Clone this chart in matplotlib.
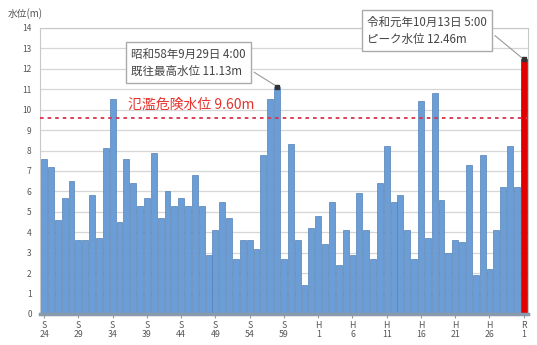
import matplotlib
matplotlib.use("Agg")
import matplotlib.pyplot as plt
import numpy as np

plt.rcParams['font.family'] = ['Noto Sans CJK JP', 'DejaVu Sans']

# 年最高水位 (m), 昭和24年 ～ 令和元年
years = list(range(1949, 2020))
levels = [7.6, 7.2, 4.6, 5.7, 6.5, 3.6, 3.6, 5.8, 3.7, 8.1,
          10.5, 4.5, 7.6, 6.4, 5.3, 5.7, 7.9, 4.7, 6.0, 5.3,
          5.7, 5.3, 6.8, 5.3, 2.9, 4.1, 5.5, 4.7, 2.7, 3.6,
          3.6, 3.2, 7.8, 10.5, 11.13, 2.7, 8.3, 3.6, 1.4, 4.2,
          4.8, 3.4, 5.5, 2.4, 4.1, 2.9, 5.9, 4.1, 2.7, 6.4,
          8.2, 5.5, 5.8, 4.1, 2.7, 10.4, 3.7, 10.8, 5.6, 3.0,
          3.6, 3.5, 7.3, 1.9, 7.8, 2.2, 4.1, 6.2, 8.2, 6.2,
          12.46]
tick_years = list(range(1949, 2020, 5))
tick_labels = ["S\n24", "S\n29", "S\n34", "S\n39", "S\n44", "S\n49", "S\n54", "S\n59",
               "H\n1", "H\n6", "H\n11", "H\n16", "H\n21", "H\n26", "R\n1"]
danger_level = 9.60
danger_text = "氾濫危険水位 9.60m"
past_max_text = "昭和58年9月29日 4:00\n既往最高水位 11.13m"
peak_text = "令和元年10月13日 5:00\nピーク水位 12.46m"

x = np.arange(len(years))
colors = ['#6b9dd6'] * (len(years) - 1) + ['#e00000']
edges = ['#5580b5'] * (len(years) - 1) + ['#c00000']

fig = plt.figure(figsize=(5.37, 3.45), dpi=100)
ax = fig.add_axes([0.0745, 0.090, 0.9085, 0.829])

ax.bar(x, levels, width=0.86, color=colors, edgecolor=edges, linewidth=0.5, zorder=2)
ax.axhline(danger_level, color='#d8324e', lw=1.3, ls=(0, (2, 2.2)), zorder=3)

ax.set_xlim(-0.6, 70.6)
ax.set_ylim(0, 14)
ax.set_yticks(range(0, 15))
ax.yaxis.grid(True, color='#d6d6d6', lw=0.9, zorder=0)
ax.set_axisbelow(True)
ax.set_xticks([years.index(y) for y in tick_years])
ax.set_xticklabels(tick_labels, fontsize=6.3, color='#555555', linespacing=1.0)
ax.tick_params(axis='y', labelsize=6, colors='#555555', length=0, pad=6)
ax.tick_params(axis='x', length=3, color='#999999', pad=2)
for s in ['top', 'right', 'left']:
    ax.spines[s].set_color('#c8c8c8')
ax.spines['bottom'].set_color('#8a9aad')
ax.spines['bottom'].set_linewidth(2.5)

fig.text(0.015, 0.962, "水位(m)", fontsize=7, color='#555555', va='center')

ax.text(12.2, 10.25, danger_text, fontsize=10, color='#e8322c', va='center', ha='left', zorder=4)

box = dict(boxstyle='square,pad=0.45', fc='white', ec='#aaaaaa', lw=1.0)
i_max = years.index(1983)
ax.annotate(past_max_text, xy=(i_max, levels[i_max]), xytext=(21.1, 12.3),
            ha='center', va='center', multialignment='left', fontsize=8.3,
            color='#444444', bbox=box, linespacing=1.4, zorder=5,
            arrowprops=dict(arrowstyle='-', color='#999999', lw=0.8, relpos=(1, 0.35)))
ax.plot(i_max, levels[i_max], marker='s', ms=2.5, color='#333333', zorder=6)

i_peak = len(years) - 1
ax.annotate(peak_text, xy=(i_peak, levels[i_peak]), xytext=(55.9, 13.87),
            ha='center', va='center', multialignment='left', fontsize=8.3,
            color='#444444', bbox=box, linespacing=1.4, zorder=5, annotation_clip=False,
            arrowprops=dict(arrowstyle='-', color='#999999', lw=0.8, relpos=(1, 0.55)))
ax.plot(i_peak, levels[i_peak], marker='s', ms=2.5, color='#333333', zorder=6)

fig.savefig("out.png", dpi=100)
